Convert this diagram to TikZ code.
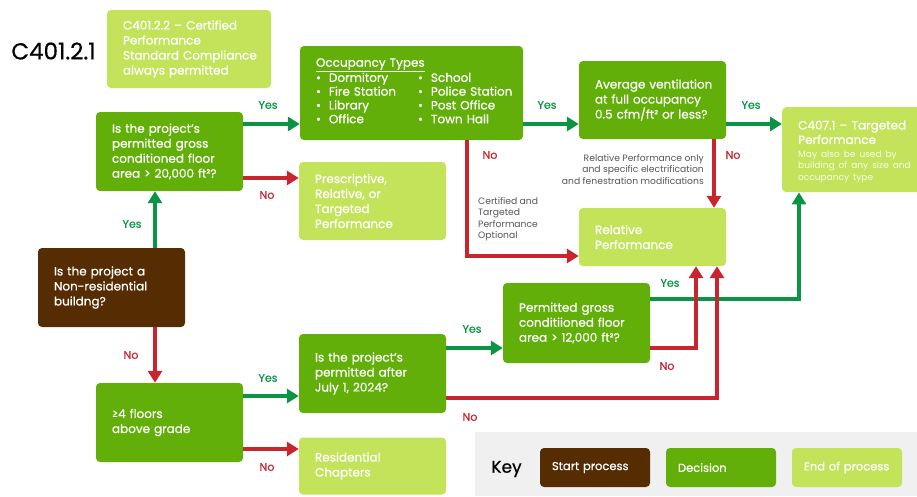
\documentclass[tikz,border=0pt]{standalone}
\usepackage{fontspec}
\setmainfont{Poppins}[UprightFeatures={FakeBold=0.6}]
\newfontfamily\lightfont{Poppins}
\usetikzlibrary{arrows.meta}
\definecolor{lgreen}{HTML}{C3E35A}
\definecolor{mgreen}{HTML}{62AF0A}
\definecolor{brownbox}{HTML}{562C03}
\definecolor{agreen}{HTML}{0B9444}
\definecolor{ared}{HTML}{C8252F}
\definecolor{graytxt}{HTML}{555555}
\definecolor{keybg}{HTML}{F0F0F0}
\hyphenpenalty=10000
\exhyphenpenalty=10000
\hbadness=10000
\hfuzz=100pt
\tikzset{
  box/.style={rectangle, rounded corners=4pt, inner xsep=16pt, inner ysep=0pt, align=left, text=white,
    font=\fontsize{12}{15}\selectfont},
  decbox/.style={box, fill=mgreen},
  endbox/.style={box, fill=lgreen},
  startbox/.style={box, fill=brownbox},
  keybox/.style={box, inner xsep=12pt, minimum width=110pt, minimum height=39pt, text width=86pt,
    font=\fontsize{11.5}{14}\selectfont},
  yesline/.style={draw=agreen, line width=4pt, -{Triangle[width=14pt,length=12pt]}},
  noline/.style={draw=ared, line width=4pt, -{Triangle[width=14pt,length=12pt]}},
  yeslbl/.style={text=agreen, font=\fontsize{11}{12}\selectfont},
  nolbl/.style={text=ared, font=\fontsize{11}{12}\selectfont},
  note/.style={text=graytxt, font=\lightfont\fontsize{9.2}{11.5}\selectfont, inner sep=0pt},
}
\begin{document}
\begin{tikzpicture}[x=1pt,y=-1pt]
\useasboundingbox (0,0) rectangle (917,496);
\begin{scope}
\clip (0,0) rectangle (917,496);
% key background
\fill[keybg] (475,432) rectangle (917,496);
% title
\node[font=\fontsize{23}{26}\selectfont, text=black, inner sep=0pt] (title) at (53.5,51) {C401.2.1};
% boxes
\node[endbox, minimum width=164pt, minimum height=78pt, text width=132pt] (c4022) at (189,49)
  {C401.2.2~–~Certified\\Performance\\Standard~Compliance\\always~permitted};
\node[decbox, minimum width=147pt, minimum height=79pt, text width=115pt] (q1) at (169.5,151.5)
  {Is~the~project's\\permitted~gross\\conditioned~floor\\area~>~20,000~ft²?};
\node[decbox, minimum width=223pt, minimum height=94pt, text width=191pt] (occ) at (411.5,93)
  {\underline{Occupancy Types}\\[-1.5pt]
   \begin{tabular}{@{}p{93pt}@{\hspace{9pt}}l@{}}
   • \ Dormitory & • \ School\\[-1.2pt]
   • \ Fire Station & • \ Police Station\\[-1.2pt]
   • \ Library & • \ Post Office\\[-1.2pt]
   • \ Office & • \ Town Hall
   \end{tabular}};
\node[endbox, minimum width=147pt, minimum height=78pt, text width=115pt] (presc) at (372.5,201)
  {Prescriptive,\\Relative,~or\\Targeted\\Performance};
\node[decbox, minimum width=147pt, minimum height=78pt, text width=115pt] (vent) at (652.5,100)
  {Average~ventilation\\at~full~occupancy\\0.5~cfm/ft²~or~less?};
\node[endbox, minimum width=145pt, minimum height=85pt, text width=113pt, anchor=north west] (c4071) at (782,107)
  {{\fontsize{12}{14.5}\selectfont C407.1~–~Targeted\\Performance\par}\vspace{2pt}
   {\lightfont\fontsize{9}{11.5}\selectfont\color{white!88!lgreen}May~also~be~used~by\\building~of~any~size~and\\occupancy~type\par}\vspace{-4pt}};
\node[endbox, minimum width=147pt, minimum height=58pt, text width=115pt] (rel) at (652.5,237)
  {Relative\\Performance};
\node[startbox, minimum width=147pt, minimum height=79pt, text width=115pt] (start) at (111.5,287.5)
  {Is~the~project~a\\Non-residential\\buildng?\\[4pt]};
\node[decbox, minimum width=147pt, minimum height=79pt, text width=115pt] (floors) at (169.5,422.5)
  {≥4~floors\\above~grade};
\node[endbox, minimum width=147pt, minimum height=57pt, text width=115pt] (resid) at (372.5,466)
  {Residential\\Chapters};
\node[decbox, minimum width=147pt, minimum height=79pt, text width=115pt] (july) at (372.5,373.5)
  {Is~the~project’s\\permitted~after\\July~1,~2024?};
\node[decbox, minimum width=147pt, minimum height=80pt, text width=115pt] (p12) at (576.5,323)
  {Permitted~gross\\conditiioned~floor\\area~>~12,000~ft²?};
% key
\node[font=\fontsize{17}{20}\selectfont, text=black, inner sep=0pt] (keylbl) at (506.5,469) {Key};
\node[keybox, fill=brownbox] (kstart) at (595,467.5) {Start~process};
\node[keybox, fill=mgreen] (kdec) at (721,467.5) {Decision};
\node[keybox, fill=lgreen] (kend) at (847,467.5) {End~of~process};
% notes
\node[note, anchor=north west, align=left] (note1) at (478,197)
  {Certified and\\Targeted\\Performance\\Optional};
\node[note, anchor=north east, align=right] (note2) at (704,154)
  {Relative Performance only\\and specific electrification\\and fenestration modifications};
% connectors
\draw[yesline] (start.north -| 155,0) -- (q1.south -| 155,0);
\draw[noline] (start.south -| 155,0) -- (floors.north -| 155,0);
\draw[yesline] (q1.east |- 0,124) -- (occ.west |- 0,124);
\draw[noline] (q1.east |- 0,178) -- (presc.west |- 0,178);
\draw[yesline] (occ.east |- 0,124) -- (vent.west |- 0,124);
\draw[yesline] (vent.east |- 0,124) -- (c4071.west |- 0,124);
\draw[noline] (occ.south -| 467,0) -- (467,256) -- (rel.west |- 0,256);
\draw[noline] (vent.south -| 714,0) -- (rel.north -| 714,0);
\draw[yesline] (floors.east |- 0,396) -- (july.west |- 0,396);
\draw[noline] (floors.east |- 0,449) -- (resid.west |- 0,449);
\draw[yesline] (july.east |- 0,348) -- (p12.west |- 0,348);
\draw[yesline] (p12.east |- 0,299) -- (799,299) -- (c4071.south -| 799,0);
\draw[noline] (p12.east |- 0,348) -- (696,348) -- (rel.south -| 696,0);
\draw[noline] (july.east |- 0,398) -- (717,398) -- (rel.south -| 717,0);
% labels
\node[yeslbl] (l1) at (132,224) {Yes};
\node[nolbl] (l2) at (131,355) {No};
\node[yeslbl] (l3) at (268,105) {Yes};
\node[nolbl] (l4) at (267,195) {No};
\node[yeslbl] (l5) at (547,105) {Yes};
\node[nolbl] (l6) at (490,155) {No};
\node[yeslbl] (l7) at (751,105) {Yes};
\node[nolbl] (l8) at (733,155) {No};
\node[yeslbl] (l9) at (268,378) {Yes};
\node[nolbl] (l10) at (267,467) {No};
\node[yeslbl] (l11) at (472,329) {Yes};
\node[nolbl] (l12) at (470,417) {No};
\node[yeslbl] (l13) at (670,283) {Yes};
\node[nolbl] (l14) at (667,366) {No};
\end{scope}
\end{tikzpicture}
\end{document}
